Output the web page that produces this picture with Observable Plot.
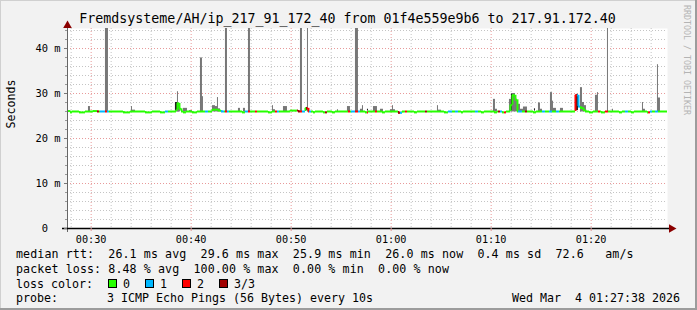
<!DOCTYPE html>
<html><head><meta charset="utf-8">
<script src="https://cdn.jsdelivr.net/npm/d3@7"></script>
<script src="https://cdn.jsdelivr.net/npm/@observablehq/plot@0.6"></script>
<style>
html,body{margin:0;padding:0;background:#f2f2f2;}
#wrap{position:relative;width:697px;height:310px;background:#f2f2f2;overflow:hidden;font-family:"DejaVu Sans Mono",monospace;color:#000;}
#wrap .abs{position:absolute;white-space:pre;}
.title{left:0;top:11px;width:695px;text-align:center;font-size:13.3px;line-height:16px;}
.leg{font-size:11.63px;line-height:14px;}
.wide{letter-spacing:0.1px;}
.box{position:absolute;width:7px;height:7px;border:1px solid #000;}
#chart{position:absolute;left:0;top:18px;}
#chart svg text{white-space:pre;}
.rrd{left:682px;top:5px;font-size:8.3px;line-height:10px;color:#b4b4b4;writing-mode:vertical-rl;}
.edge{position:absolute;}
</style></head><body>
<div id="wrap">
  <div class="edge" style="left:0;top:0;width:697px;height:1px;background:#d0d0d0"></div>
  <div class="edge" style="left:0;top:0;width:1px;height:310px;background:#d0d0d0"></div>
  <div class="edge" style="left:695px;top:0;width:2px;height:310px;background:#9c9c9c"></div>
  <div class="edge" style="left:0;top:308px;width:697px;height:2px;background:#9c9c9c"></div>
  <div class="abs title" id="title"></div>
  <div class="abs rrd" id="rrd"></div>
  <div id="chart"></div>
  <div id="legend"></div>
</div>
<script>
// ---------- data ----------
const titleText = "Fremdsysteme/AH/ip_217_91_172_40 from 01f4e559e9b6 to 217.91.172.40";
const yLabel = "Seconds";
const yMajorTicks = [0, 10, 20, 30, 40];
const xTickLabels = ["00:30", "00:40", "00:50", "01:00", "01:10", "01:20"];
const windowStart = "00:27:38";
const windowEnd = "01:27:38";

// median rtt (ms), step changes: start minute (past midnight) and value
const medT = [27.63,27.93,28.13,28.83,29.43,30.23,30.63,33.23,33.93,35.43,
  36.13,36.93,37.43,38.53,38.63,38.83,39.03,39.23,39.53,40.13,
  40.63,42.13,42.73,43.03,45.13,45.43,47.73,48.13,49.93,50.73,
  51.43,51.73,52.23,52.43,53.23,53.63,54.13,54.43,57.43,57.73,
  59.13,59.43,60.73,61.13,62.33,62.63,65.33,65.73,67.03,67.23,
  69.03,69.33,70.33,70.63,71.13,71.53,71.93,72.13,72.43,72.63,
  74.23,74.53,78.43,78.73,78.93,79.23,79.43,79.83,80.23,81.03,
  81.43,82.83,83.13,84.03,84.33,85.63,85.93];
const medV = [26.1,25.8,26.0,25.8,26.0,26.1,26.0,25.8,26.0,25.8,
  26.0,25.8,26.0,26.3,27.8,26.6,26.0,25.8,26.0,25.8,
  26.0,26.4,26.2,26.0,25.8,26.0,25.8,26.0,26.2,26.0,
  26.7,26.0,25.8,26.0,25.8,26.0,25.8,26.0,25.8,26.0,
  25.8,26.0,25.7,26.0,25.8,26.0,25.8,26.0,25.8,26.0,
  25.8,26.0,25.8,26.0,25.8,26.0,27.4,29.6,28.6,26.0,
  25.8,26.0,29.6,27.1,26.8,26.3,26.0,25.8,26.0,25.8,
  26.0,25.8,26.0,25.8,26.0,25.8,26.0];

// packet loss intervals (minutes) and lost pings out of 3
const lossStart = [30.63,30.93,31.43,31.63,37.43,41.43,43.03,43.43,43.63,45.43,45.73,46.43,48.43,48.63,
  50.63,50.93,51.13,51.53,51.63,51.83,53.43,55.73,56.03,56.43,56.73,57.63,58.43,60.73,60.93,61.43,
  63.43,65.73,66.43,68.43,70.73,70.93,71.33,72.73,73.43,75.13,75.83,76.53,78.43,78.63,80.73,81.43,
  83.43,85.73,85.93,86.43];
const lossEnd = [30.83,31.43,31.63,31.83,37.73,41.73,43.33,43.63,43.83,45.73,45.93,46.63,48.63,48.83,
  50.93,51.13,51.43,51.63,51.83,52.03,53.63,55.93,56.43,56.73,56.93,57.73,58.63,60.93,61.13,61.63,
  63.63,66.13,66.73,68.73,70.93,71.13,71.53,73.13,73.63,75.43,76.13,76.83,78.63,78.93,80.93,81.73,
  83.73,85.93,86.13,86.73];
const lossLevel = [3,1,2,1,1,1,1,2,1,1,2,2,2,1,
  3,2,1,3,2,1,3,2,1,2,1,2,2,3,1,2,
  3,1,1,1,3,1,2,1,3,1,1,1,2,1,2,2,
  1,2,1,1];

// smoke (ping spread): start, end minute and highest ping (ms)
const smokeLow = 25.9;
const smokeStart = [29.73,31.43,34.03,34.13,38.43,38.63,39.23,39.83,40.93,41.13,42.13,42.43,42.63,42.73,43.43,
  44.73,45.23,45.73,48.13,48.23,49.23,50.93,51.63,54.63,55.63,56.43,56.93,57.13,58.23,58.93,59.93,60.13,
  64.63,64.73,70.23,70.43,71.83,72.03,72.43,72.63,72.93,73.23,74.73,74.93,75.93,76.13,76.23,76.93,
  78.93,79.13,79.33,80.43,80.63,81.63,82.13,85.13,85.23,86.63,86.73];
const smokeEnd = [29.93,31.73,34.13,34.43,38.93,38.73,39.63,40.13,41.13,41.23,42.43,42.63,42.73,42.93,43.63,
  44.93,45.43,45.93,48.23,48.43,49.63,51.13,51.73,54.73,55.93,56.73,57.13,57.23,58.63,59.23,60.43,60.23,
  64.73,65.03,70.43,70.63,72.03,72.43,72.63,72.93,73.23,73.63,74.93,75.13,76.13,76.23,76.53,77.23,
  79.13,79.33,79.53,80.63,80.73,81.73,82.23,85.23,85.43,86.73,86.93];
const smokeTop = [27.1,60,27.1,26.3,27.8,30.4,26.7,26.2,37.9,29.3,27.3,27.1,29.1,26.6,60,
  26.7,26.7,60,27.3,26.4,27.1,60,60,26.4,27.1,60,26.5,27.3,27.1,26.5,26.4,27.3,
  27.3,26.3,28.7,26.5,28.7,30.0,28.7,27.6,26.5,27.0,27.9,26.5,30.2,28.3,26.7,26.7,
  31.3,28.0,27.3,29.6,30.2,60,26.5,28.0,26.5,36.4,29.0];

// dense smoke
const darkStart = [38.43,51.53,57.63,72.03,74.33,78.53];
const darkEnd = [38.63,51.63,57.73,72.13,74.43,78.73];
const darkLow = [26.2,26.2,26.1,26.2,26.1,26.2];
const darkHigh = [28.0,26.9,26.5,29.8,26.6,29.8];

// legend
const lossLabels = ["0", "1", "2", "3/3"];
const lossColors = ["#26ff00", "#00b8ff", "#ff0000", "#a00000"];
const rttVals = ["26.1", "29.6", "25.9", "26.0", "0.4"];
const rttStatNames = ["avg", "max", "min", "now", "sd"];
const amS = "72.6";
const lossVals = ["8.48", "100.00", "0.00", "0.00"];
const lossStatNames = ["avg", "max", "min", "now"];
const probeText = "3 ICMP Echo Pings (56 Bytes) every 10s";
const stampText = "Wed Mar  4 01:27:38 2026";
const rrdText = "RRDTOOL / TOBI OETIKER";

// ---------- build ----------
const DAY = Date.UTC(2026, 2, 4);
const toDate = m => new Date(DAY + m * 60000);
const hms = s => { const [h, m, sec] = s.split(":").map(Number); return h * 60 + m + (sec || 0) / 60; };
const startM = hms(windowStart), endM = hms(windowEnd);
const xDomain = [toDate(startM), toDate(endM)];
const yTop = 200 / 4.5;

const medAt = m => { let v = medV[0]; for (let i = 0; i < medT.length; i++) if (medT[i] <= m + 1e-6) v = medV[i]; return v; };
const lossAt = m => { for (let i = 0; i < lossStart.length; i++) if (m >= lossStart[i] - 1e-6 && m < lossEnd[i] - 1e-6) return lossLevel[i]; return 0; };
const cuts = Array.from(new Set([...medT, ...lossStart, ...lossEnd, endM].map(v => +v.toFixed(4))))
  .filter(m => m >= startM - 0.02 && m <= endM).sort((a, b) => a - b);
const pieces = cuts.slice(0, -1).map((m, i) => ({t0: toDate(m), t1: toDate(cuts[i + 1]), v: medAt(m), c: lossColors[lossAt(m)]}));
const joins = [];
for (let i = 1; i < pieces.length; i++) if (pieces[i].v !== pieces[i - 1].v) joins.push({t: pieces[i].t0, a: pieces[i - 1].v, b: pieces[i].v, c: pieces[i].c});

const smoke = smokeStart.map((s, i) => ({t0: toDate(s), t1: toDate(smokeEnd[i]), lo: smokeLow, hi: smokeTop[i]}));
const dark = darkStart.map((s, i) => ({t0: toDate(s), t1: toDate(darkEnd[i]), lo: darkLow[i], hi: darkHigh[i]}));

const xMajor = xTickLabels.map(l => toDate(hms(l)));
const xMinor = d3.utcMinute.every(2).range(xDomain[0], xDomain[1]).filter(d => d.getUTCMinutes() % 10 !== 0);
const yMinor = d3.range(2, yTop, 2).filter(v => v % 10 !== 0);
const yMajorGrid = yMajorTicks.filter(v => v > 0);

const chart = Plot.plot({
  width: 676, height: 228,
  marginLeft: 67, marginRight: 9, marginTop: 10, marginBottom: 18,
  style: {background: "transparent", overflow: "visible", fontFamily: "DejaVu Sans Mono, monospace"},
  x: {type: "utc", domain: xDomain, axis: null},
  y: {domain: [0, yTop], axis: null},
  color: {type: "identity"},
  marks: [
    Plot.frame({fill: "#ffffff", stroke: null}),
    Plot.ruleY(yMinor, {stroke: "#c4c4c4", strokeDasharray: "1,2"}),
    Plot.ruleX(xMinor, {stroke: "#c4c4c4", strokeDasharray: "1,2"}),
    Plot.ruleY(yMajorGrid, {stroke: "#e89a9a", strokeDasharray: "1,2"}),
    Plot.ruleX(xMajor, {stroke: "#e89a9a", strokeDasharray: "1,2"}),
    Plot.rect(smoke, {x1: "t0", x2: "t1", y1: "lo", y2: "hi", fill: "#777777", clip: true}),
    Plot.rect(dark, {x1: "t0", x2: "t1", y1: "lo", y2: "hi", fill: "#1e1e1e", clip: true}),
    Plot.ruleX(joins, {x: "t", y1: "a", y2: "b", stroke: "c", strokeWidth: 2}),
    Plot.ruleY(pieces, {x1: "t0", x2: "t1", y: "v", stroke: "c", strokeWidth: 2}),
    Plot.ruleX([xDomain[0]], {stroke: "#666666", insetBottom: -4, insetTop: -2}),
    Plot.ruleY([0], {stroke: "#000000", strokeWidth: 1.3, insetLeft: -5, insetRight: -2}),
    Plot.axisY(yMinor, {tickSize: 2, tickFormat: () => "", stroke: "#999999"}),
    Plot.axisY(yMajorTicks, {tickSize: 3, tickPadding: 4, stroke: "#777777", fontSize: 10.4,
      tickFormat: d => d === 0 ? "0  " : d + " m"}),
    Plot.axisX(xMajor, {tickSize: 3, tickPadding: 4, stroke: "#e09090", fontSize: 10.2,
      tickFormat: d3.utcFormat("%H:%M")}),
    Plot.dot([{x: xDomain[1], y: 0}], {x: "x", y: "y", symbol: "triangle", r: 3.2, rotate: 90, dx: 4, fill: "#8b0000", stroke: null}),
    Plot.dot([{x: xDomain[0], y: yTop}], {x: "x", y: "y", symbol: "triangle", r: 3.2, dy: -3, fill: "#8b0000", stroke: null}),
    Plot.text([yLabel], {frameAnchor: "left", rotate: -90, dx: -56, fontSize: 11.6, fill: "#000"})
  ]
});
document.getElementById("chart").appendChild(chart);
document.getElementById("title").textContent = titleText;
document.getElementById("rrd").textContent = rrdText;

// legend
const leg = document.getElementById("legend");
const addText = (txt, left, top, extra, cls) => {
  const d = document.createElement("div");
  d.className = "abs leg" + (cls ? " " + cls : "");
  d.style.left = left + "px"; d.style.top = top + "px";
  if (extra) Object.assign(d.style, extra);
  d.textContent = txt; leg.appendChild(d); return d;
};
const rows = [247, 262, 277, 291];
addText("median rtt:  " + rttVals.map((v, i) => v + " ms " + rttStatNames[i]).join("  ") + "  " + amS + "   am/s", 16, rows[0], null, "wide");
addText("packet loss: " + lossVals.map((v, i) => v + " % " + lossStatNames[i]).join("  "), 16, rows[1], null, "wide");
addText("loss color:", 16, rows[2]);
lossLabels.forEach((l, i) => {
  const b = document.createElement("div");
  b.className = "box";
  b.style.left = (108 + 37 * i) + "px"; b.style.top = (rows[2] + 2) + "px"; b.style.background = lossColors[i];
  leg.appendChild(b);
  addText(l, 123 + 37 * i, rows[2]);
});
addText("probe:", 16, rows[3]);
addText(probeText, 107, rows[3]);
addText(stampText, 0, rows[3], {left: "auto", right: "17px"});
</script>
</body></html>
